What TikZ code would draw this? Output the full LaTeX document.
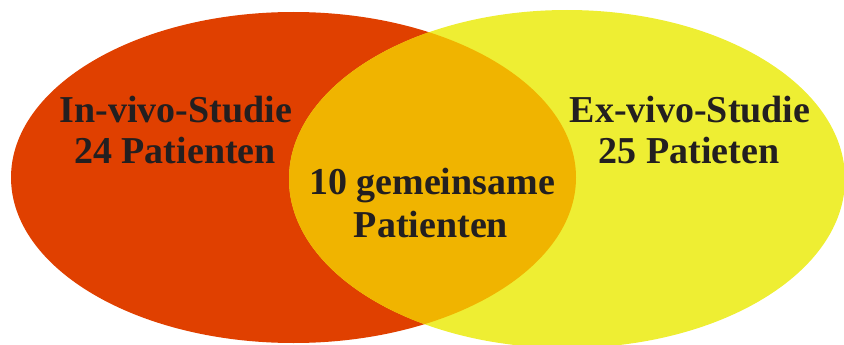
\documentclass[tikz,border=0pt]{standalone}
\usepackage{fontspec}
\setmainfont{Liberation Serif}
\definecolor{invivo}{HTML}{E04000}
\definecolor{exvivo}{HTML}{EEEE33}
\definecolor{common}{HTML}{F0B400}
\definecolor{ink}{HTML}{231F20}
\tikzset{
  lbl/.style={anchor=base, inner sep=0pt, text=ink, font=\fontsize{38}{41}\selectfont\bfseries},
}
\begin{document}
\begin{tikzpicture}[x=1pt,y=-1pt]
\useasboundingbox (0,0) rectangle (844,345);
\coordinate (cl) at (293.5,177.5);
\coordinate (cr) at (567,179);
\fill[invivo] (cl) ellipse [x radius=282.5, y radius=165.5];
\fill[exvivo] (cr) ellipse [x radius=278, y radius=169];
\begin{scope}
  \clip (cl) ellipse [x radius=282.5, y radius=165.5];
  \fill[common] (cr) ellipse [x radius=278, y radius=169];
\end{scope}
\node[lbl] (l1) at (176,122) {In-vivo-Studie};
\node[lbl] (l2) at (175,163) {24 Patienten};
\node[lbl] (r1) at (690,122) {Ex-vivo-Studie};
\node[lbl] (r2) at (689,163) {25 Patieten};
\node[lbl] (m1) at (432,194) {10 gemeinsame};
\node[lbl] (m2) at (431,237) {Patienten};
\end{tikzpicture}
\end{document}
